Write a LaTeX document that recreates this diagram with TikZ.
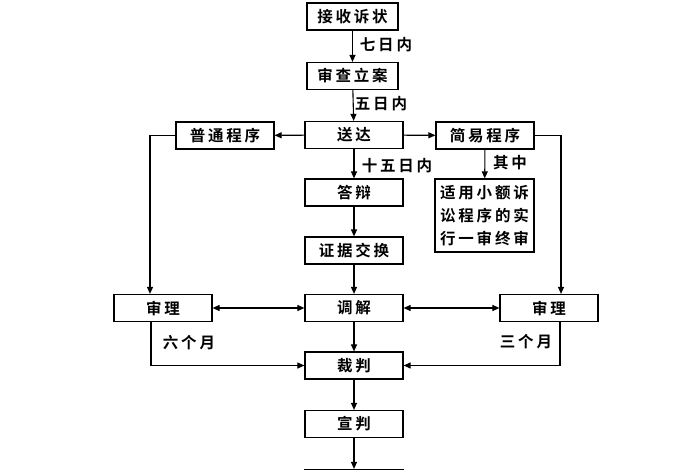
\documentclass[tikz,border=0pt]{standalone}
\usepackage{fontspec}
\setmainfont{Noto Sans CJK SC}[BoldFont={* Bold},LetterSpace=18]
\usetikzlibrary{arrows.meta}
\begin{document}
\begin{tikzpicture}[x=1pt,y=-1pt,
  box/.style={draw,line width=1.2pt,minimum width=98pt,minimum height=27pt,inner sep=0pt,font=\fontsize{15.5}{17}\selectfont\bfseries},
  lab/.style={font=\fontsize{15.5}{17}\selectfont\bfseries,inner sep=0pt},
  every path/.style={line width=1.1pt},
  ar/.style={-{Triangle[length=7pt,width=6pt]}},
  dar/.style={{Triangle[length=7pt,width=6pt]}-{Triangle[length=7pt,width=6pt]}}]
\useasboundingbox (0,0) rectangle (700,470);
\node[box,minimum width=91pt] (a) at (352.5,16.5) {接收诉状};
\node[box,minimum width=91pt] (b) at (352.5,76) {审查立案};
\node[box] (c) at (354,135) {送达};
\node[box] (pt) at (225,135.5) {普通程序};
\node[box] (jy) at (485,135.5) {简易程序};
\node[box] (d) at (354,192.5) {答辩};
\node[box] (e) at (354,250.5) {证据交换};
\node[box] (f) at (354,308) {调解};
\node[box] (g) at (354,365.5) {裁判};
\node[box] (h) at (354,424) {宣判};
\node[box] (i) at (354,483) {};
\node[box] (sl) at (163,308) {审理};
\node[box] (sr) at (549,308) {审理};
\node[draw,line width=1.2pt,minimum width=99pt,minimum height=73pt,inner sep=0pt,align=center,font=\fontsize{15.5}{23}\selectfont\bfseries] (xe) at (484.5,215.5) {适用小额诉\\讼程序的实\\行一审终审};
\draw[ar] (a) -- (b);
\draw[ar] (b) -- (c);
\draw[ar] (c) -- (d);
\draw[ar] (d) -- (e);
\draw[ar] (e) -- (f);
\draw[ar] (f) -- (g);
\draw[ar] (g) -- (h);
\draw[ar] (h) -- (i);
\draw[ar] (c) -- (pt);
\draw[ar] (c) -- (jy);
\draw[ar] (jy) -- (xe);
\draw[ar] (pt.west) -| (sl.north -| 150,0);
\draw[ar] (jy.east) -| (sr.north -| 561,0);
\draw[dar] (sl) -- (f);
\draw[dar] (f) -- (sr);
\draw[ar] (sl.south -| 151,0) |- (g.west);
\draw[ar] (sr.south -| 560,0) |- (g.east);
\node[lab] (l1) at (386,45) {七日内};
\node[lab] (l2) at (381,104) {五日内};
\node[lab] (l3) at (397,166) {十五日内};
\node[lab] (l4) at (510,163) {其中};
\node[lab] (l5) at (189,343) {六个月};
\node[lab] (l6) at (526,342) {三个月};
\end{tikzpicture}
\end{document}
